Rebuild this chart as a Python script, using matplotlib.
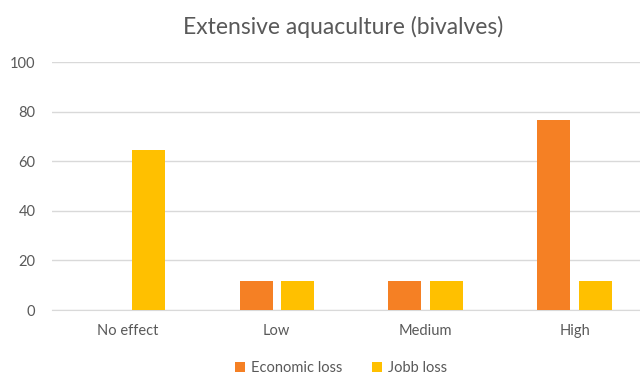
import numpy as np
import matplotlib.pyplot as plt

plt.rcParams['font.family'] = ['Lato', 'DejaVu Sans']

categorias = ['No effect', 'Low', 'Medium', 'High']
perdida_economica = [0, 11.8, 11.8, 76.5]
perdida_empleo = [64.7, 11.8, 11.8, 11.8]
ticks_y = [0, 20, 40, 60, 80, 100]

GRIS = '#595959'
NARANJA = '#F58024'
AMARILLO = '#FFC000'

fig = plt.figure(figsize=(6.4, 3.76), dpi=100)
ax = fig.add_axes([52 / 640, 1 - 310 / 376, 1 - 52 / 640, (310 - 62) / 376])

x = np.arange(len(categorias))
ancho = 0.222
sep = 0.028
ax.bar(x - ancho / 2 - sep, perdida_economica, ancho, color=NARANJA, label='Economic loss', zorder=3)
ax.bar(x + ancho / 2 + sep, perdida_empleo, ancho, color=AMARILLO, label='Jobb loss', zorder=3)

ax.set_ylim(0, 100)
ax.set_xlim(-0.51, 3.44)
ax.set_yticks(ticks_y)
ax.set_xticks(x)
ax.set_xticklabels(categorias)
ax.yaxis.grid(True, color='#D9D9D9', lw=1, zorder=0)
for lado in ['top', 'right', 'left']:
    ax.spines[lado].set_visible(False)
ax.spines['bottom'].set_color('#D9D9D9')
ax.tick_params(axis='both', length=0, colors=GRIS, labelsize=10.5)
ax.tick_params(axis='x', pad=10)
ax.tick_params(axis='y', pad=12)

fig.text(343 / 640, 1 - 27 / 376, 'Extensive aquaculture (bivalves)', ha='center', va='center',
         fontsize=16.5, color=GRIS)

fig.legend(loc='center', bbox_to_anchor=(341 / 640, 1 - 368 / 376), ncol=2, frameon=False,
           fontsize=10.5, labelcolor=GRIS, handlelength=0.7, handleheight=0.7,
           handletextpad=0.4, columnspacing=2.0)

plt.savefig('out.png', dpi=100)
plt.close()
